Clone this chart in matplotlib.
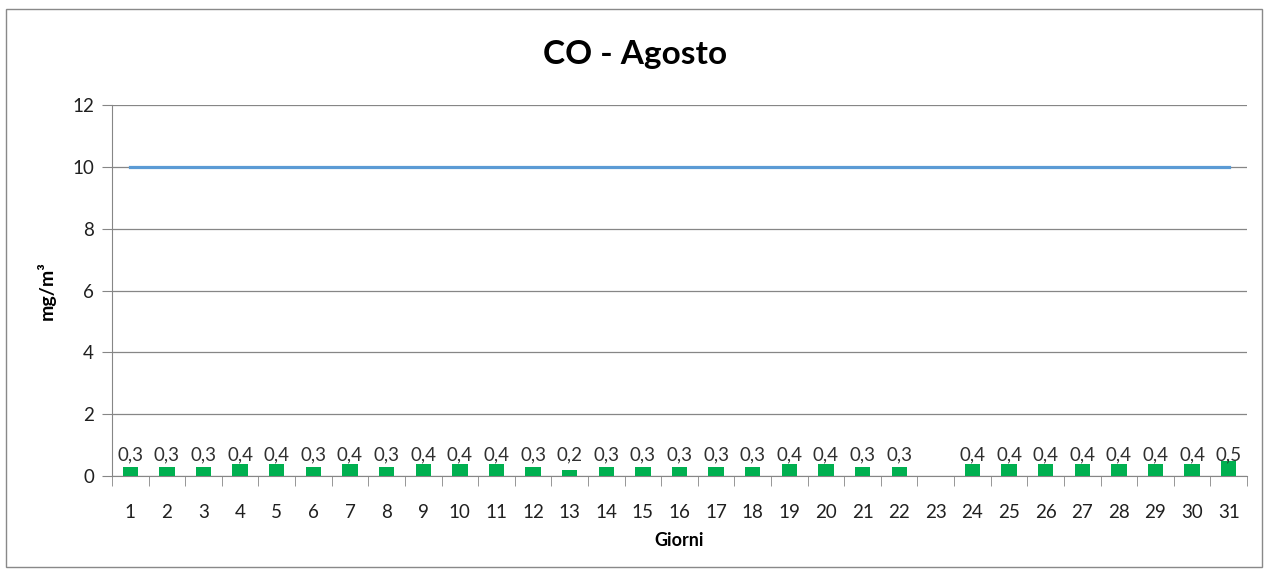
import matplotlib.pyplot as plt
from matplotlib.patches import Rectangle

plt.rcParams['font.family'] = ['Lato', 'DejaVu Sans']

giorni = list(range(1, 32))
# valori CO giornalieri (mg/m3), giorno 23 mancante
co = [0.3, 0.3, 0.3, 0.4, 0.4, 0.3, 0.4, 0.3, 0.4, 0.4, 0.4, 0.3, 0.2, 0.3, 0.3,
      0.3, 0.3, 0.3, 0.4, 0.4, 0.3, 0.3, None, 0.4, 0.4, 0.4, 0.4, 0.4, 0.4, 0.4, 0.5]
limite = [10] * 31

fig = plt.figure(figsize=(12.7, 5.74), dpi=100)
ax = fig.add_axes([0.0882, 0.1707, 0.8937, 0.6463])

# bordo esterno del grafico
fig.patches.append(Rectangle((0.005, 0.012), 0.989, 0.972, transform=fig.transFigure,
                             fill=False, edgecolor='#898989', linewidth=1))

x = list(range(31))
valori = [v if v is not None else 0 for v in co]
ax.bar(x, valori, width=0.42, color='#00B050', zorder=3)
ax.plot(x, limite, color='#5B9BD5', linewidth=2.3, zorder=4)

# etichette dati tutte alla stessa altezza
for xi, v in zip(x, co):
    if v is not None:
        ax.text(xi, 0.42, f"{v:.1f}".replace('.', ','), ha='center', va='bottom',
                fontsize=13.5, color='#303030', zorder=5)

ax.set_xlim(-0.5, 30.5)
ax.set_ylim(0, 12)
ax.set_yticks(range(0, 13, 2))
ax.set_xticks(x)
ax.set_xticklabels([str(g) for g in giorni])
ax.set_xticks([i - 0.5 for i in range(32)], minor=True)
ax.tick_params(axis='x', which='major', length=0, labelsize=13.5, pad=20, colors='#202020')
ax.tick_params(axis='x', which='minor', length=7, color='#868686')
ax.tick_params(axis='y', length=7, color='#868686', labelsize=13.5, colors='#202020', pad=6)

ax.grid(axis='y', color='#868686', linewidth=0.9, zorder=0)
for s in ['top', 'right']:
    ax.spines[s].set_visible(False)
ax.spines['left'].set_color('#868686')
ax.spines['bottom'].set_color('#868686')

fig.text(0.5, 0.905, 'CO - Agosto', fontsize=24, fontweight='bold', ha='center', va='center')
ax.set_xlabel('Giorni', fontsize=13, fontweight='bold', labelpad=8)
ax.set_ylabel('mg/m³', fontsize=14, fontweight='bold', labelpad=12)

fig.savefig('out.png', dpi=100)
